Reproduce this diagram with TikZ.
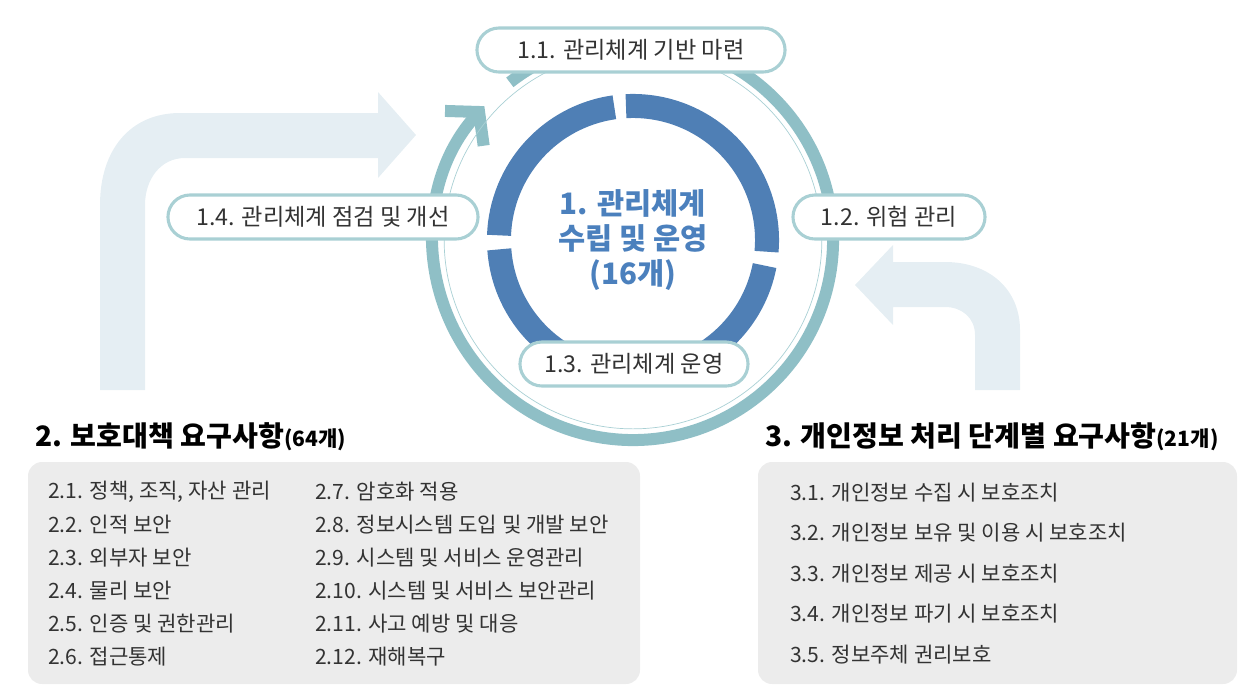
\documentclass[tikz,border=0pt]{standalone}
\usepackage{fontspec}
\setmainfont{Noto Sans CJK KR}
\usetikzlibrary{arrows.meta}
\definecolor{ringteal}{HTML}{8FBFC6}
\definecolor{pillline}{HTML}{A9D0D4}
\definecolor{ringblue}{HTML}{4F7FB5}
\definecolor{titleblue}{HTML}{4B80BD}
\definecolor{flowlight}{HTML}{E5EEF3}
\definecolor{boxgrey}{HTML}{ECECEC}
\definecolor{textgrey}{HTML}{333333}

\tikzset{
  pill/.style={draw=pillline, line width=2.2pt, fill=white, rounded corners=0.55cm,
    minimum height=1.1cm, font=\fontsize{16.5}{19}\selectfont, text=textgrey},
  item/.style={anchor=west, inner sep=0pt, font=\fontsize{15}{18}\selectfont, text=textgrey},
  heading/.style={anchor=west, inner sep=0pt, font=\fontsize{20}{24}\selectfont\bfseries, text=black},
  listbox/.style={fill=boxgrey, rounded corners=0.35cm},
  flow/.style={fill=flowlight, draw=none}
}

\begin{document}
\begin{tikzpicture}[x=0.025cm, y=-0.025cm]
  \useasboundingbox (0,0) rectangle (1249,687);

  % Light flow arrows
  \fill[flowlight] (100,390) -- (100,205) .. controls (100,150) and (130,113) .. (180,113) -- (378,113) -- (378,92)
    -- (416,135) -- (378,178) -- (378,158) -- (185,158) .. controls (160,158) and (145,180) .. (145,205) -- (145,390) -- cycle;
  \fill[flowlight] (1020,390) -- (1020,330) .. controls (1020,290) and (990,262) .. (945,262) -- (893,262) -- (893,245)
    -- (855,285) -- (893,325) -- (893,307) -- (945,307) .. controls (962,307) and (975,318) .. (975,335) -- (975,390) -- cycle;

  % Circle centre
  \coordinate (c) at (633,240);

  % Outer ring with arrow
  \draw[ringteal, line width=0.3cm, -{Straight Barb[length=0.55cm, width=1.3cm]}]
    (c) ++(128:5cm) arc[start angle=128, end angle=-222, radius=5cm];
  \draw[pillline, line width=0.5pt] (c) circle[radius=4.72cm];

  % Inner blue ring
  \foreach \a/\b in {93/-5, -11/-176, -182/-262}
    \draw[ringblue, line width=0.6cm] (c) ++(\a:3.35cm) arc[start angle=\a, end angle=\b, radius=3.35cm];

  % Centre title
  \node[align=center, text=titleblue, font=\fontsize{21}{25}\selectfont\bfseries] (core) at (c)
    {1. 관리체계\\수립 및 운영\\(16개)};

  % Cycle steps
  \node[pill, minimum width=7.7cm] (s11) at (631,50) {1.1. 관리체계 기반 마련};
  \node[pill, minimum width=4.8cm] (s12) at (889,217) {1.2. 위험 관리};
  \node[pill, minimum width=5.7cm] (s13) at (634,364) {1.3. 관리체계 운영};
  \node[pill, minimum width=7.75cm] (s14) at (323,217) {1.4. 관리체계 점검 및 개선};

  % Headings
  \node[heading] (h2) at (35,437) {2. 보호대책 요구사항{\fontsize{15}{18}\selectfont(64개)}};
  \node[heading] (h3) at (765,437) {3. 개인정보 처리 단계별 요구사항{\fontsize{15}{18}\selectfont(21개)}};

  % Requirement boxes
  \fill[listbox] (28,462) rectangle (640,684);
  \fill[listbox] (758,462) rectangle (1237,684);

  \foreach \t [count=\i] in {2.1. 정책{,} 조직{,} 자산 관리, 2.2. 인적 보안, 2.3. 외부자 보안,
      2.4. 물리 보안, 2.5. 인증 및 권한관리, 2.6. 접근통제}
    \node[item] (l\i) at (48,459+33*\i) {\t};
  \foreach \t [count=\i] in {2.7. 암호화 적용, 2.8. 정보시스템 도입 및 개발 보안, 2.9. 시스템 및 서비스 운영관리,
      2.10. 시스템 및 서비스 보안관리, 2.11. 사고 예방 및 대응, 2.12. 재해복구}
    \node[item] (m\i) at (315,459+33*\i) {\t};
  \foreach \t [count=\i] in {3.1. 개인정보 수집 시 보호조치, 3.2. 개인정보 보유 및 이용 시 보호조치,
      3.3. 개인정보 제공 시 보호조치, 3.4. 개인정보 파기 시 보호조치, 3.5. 정보주체 권리보호}
    \node[item] (r\i) at (790,452+40.5*\i) {\t};
\end{tikzpicture}
\end{document}
